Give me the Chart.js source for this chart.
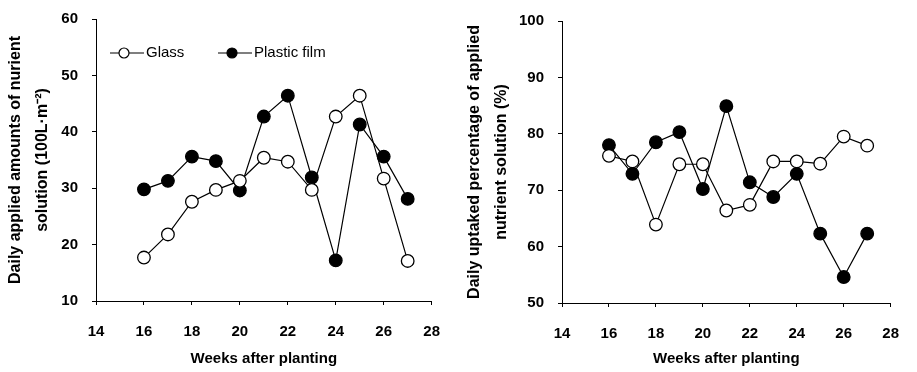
<!DOCTYPE html>
<html>
<head>
<meta charset="utf-8">
<script src="https://cdn.jsdelivr.net/npm/chart.js@4"></script>
<style>
  html, body { margin: 0; padding: 0; background: #fff; }
  .wrap { display: flex; width: 917px; height: 372px; }
  canvas { display: block; }
</style>
</head>
<body>
<div class="wrap">
  <canvas id="appliedChart" width="458" height="372"></canvas>
  <canvas id="uptakeChart" width="459" height="372"></canvas>
</div>
<script>
// weeks after planting
const weeks = [16, 17, 18, 19, 20, 21, 22, 23, 24, 25, 26, 27];

// daily applied amounts (100L·m-2)
const glassApplied = [17.7, 21.8, 27.6, 29.7, 31.3, 35.4, 34.7, 29.7, 42.7, 46.4, 31.7, 17.1];
const plasticApplied = [29.8, 31.3, 35.6, 34.8, 29.6, 42.7, 46.4, 31.9, 17.2, 41.3, 35.6, 28.1];

// daily uptaked percentage (%)
const glassUptake = [76.1, 75.1, 63.9, 74.6, 74.6, 66.4, 67.4, 75.1, 75.1, 74.7, 79.5, 77.9];
const plasticUptake = [78.0, 72.9, 78.5, 80.3, 70.2, 84.9, 71.4, 68.8, 72.9, 62.3, 54.6, 62.3];

const seriesNames = ['Glass', 'Plastic film'];
const xTicks = [14, 28, 2];
const appliedTicks = [10, 60, 10];
const uptakeTicks = [50, 100, 10];

const FONT = "'Liberation Sans', Arial, sans-serif";

function pts(ys) {
    return weeks.map((w, i) => ({ x: w, y: ys[i] }));
}

function makeDatasets(glass, plastic) {
    return [{
        label: seriesNames[0],
        data: pts(glass),
        borderColor: '#000',
        borderWidth: 1.2,
        backgroundColor: '#fff',
        pointBackgroundColor: '#fff',
        pointBorderColor: '#000',
        pointBorderWidth: 1.3,
        pointRadius: 6.3,
        tension: 0
    }, {
        label: seriesNames[1],
        data: pts(plastic),
        borderColor: '#000',
        borderWidth: 1.2,
        backgroundColor: '#000',
        pointBackgroundColor: '#000',
        pointBorderColor: '#000',
        pointBorderWidth: 1.3,
        pointRadius: 6.3,
        tension: 0
    }];
}

// legend drawn inside the plot, line + marker style
const insideLegend = {
    id: 'insideLegend',
    afterDraw(chart, args, opts) {
        if (!opts.show) return;
        const ctx = chart.ctx;
        const items = [
            { x: 110, ds: chart.data.datasets[0] },
            { x: 218, ds: chart.data.datasets[1] }
        ];
        const y = 53;
        ctx.save();
        items.forEach(it => {
            ctx.strokeStyle = '#000';
            ctx.lineWidth = 1.2;
            ctx.beginPath();
            ctx.moveTo(it.x, y);
            ctx.lineTo(it.x + 34, y);
            ctx.stroke();
            ctx.beginPath();
            ctx.arc(it.x + 14, y, 5, 0, Math.PI * 2);
            ctx.fillStyle = it.ds.pointBackgroundColor;
            ctx.fill();
            ctx.stroke();
            ctx.fillStyle = '#000';
            ctx.font = '15px ' + FONT;
            ctx.textBaseline = 'middle';
            ctx.fillText(it.ds.label, it.x + 36, y);
        });
        ctx.restore();
    }
};

function makeChart(id, glass, plastic, yTicks, yTitle, dims, legend) {
    const ctx = document.getElementById(id).getContext('2d');
    return new Chart(ctx, {
        type: 'line',
        data: { datasets: makeDatasets(glass, plastic) },
        options: {
            responsive: false,
            animation: false,
            layout: { padding: { top: dims.top, right: dims.right, left: 0, bottom: 0 } },
            plugins: {
                legend: { display: false },
                tooltip: { enabled: false },
                insideLegend: { show: legend }
            },
            scales: {
                x: {
                    type: 'linear',
                    min: xTicks[0],
                    max: xTicks[1],
                    ticks: {
                        stepSize: xTicks[2],
                        color: '#000',
                        padding: 18,
                        font: { family: FONT, size: 15, weight: 'bold' }
                    },
                    grid: { drawOnChartArea: false, drawTicks: true, tickLength: 4, color: '#000' },
                    border: { display: true, color: '#000', width: 1 },
                    title: {
                        display: true,
                        text: 'Weeks after planting',
                        color: '#000',
                        padding: { top: 0, bottom: 4 },
                        font: { family: FONT, size: 15, weight: 'bold' }
                    },
                    afterFit(scale) { scale.height = dims.xh; }
                },
                y: {
                    min: yTicks[0],
                    max: yTicks[1],
                    ticks: {
                        stepSize: yTicks[2],
                        color: '#000',
                        padding: 14,
                        font: { family: FONT, size: 15, weight: 'bold' }
                    },
                    grid: { drawOnChartArea: false, drawTicks: true, tickLength: 4, color: '#000' },
                    border: { display: true, color: '#000', width: 1 },
                    title: {
                        display: true,
                        text: yTitle,
                        color: '#000',
                        padding: { top: dims.tp, bottom: 0 },
                        font: { family: FONT, size: 16, weight: 'bold', lineHeight: 1.7 }
                    },
                    afterFit(scale) {
                        scale.width = dims.yw;
                        scale.paddingTop = 0;
                        scale.paddingBottom = 0;
                    }
                }
            }
        },
        plugins: [insideLegend]
    });
}

makeChart('appliedChart', glassApplied, plasticApplied, appliedTicks,
    ['Daily applied amounts of nurient', 'solution (100L\u00B7m\u207B\u00B2)'],
    { top: 19, right: 13, xh: 71, yw: 96, tp: 1.5 }, true);

makeChart('uptakeChart', glassUptake, plasticUptake, uptakeTicks,
    ['Daily uptaked percentage of applied', 'nutrient solution (%)'],
    { top: 21, right: 13, xh: 69, yw: 104, tp: 2.5 }, false);
</script>
</body>
</html>
